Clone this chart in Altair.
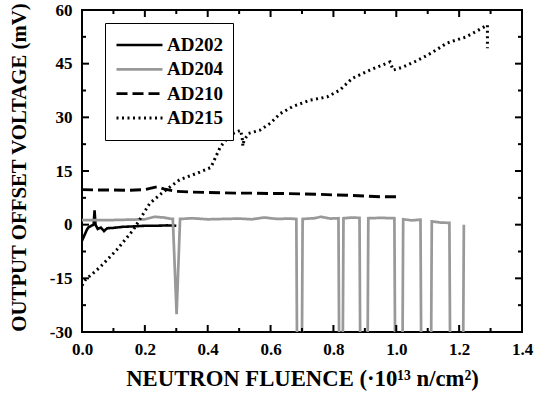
import altair as alt
import pandas as pd

series_names = ["AD202", "AD204", "AD210", "AD215"]
series_colors = ["#000000", "#999999", "#000000", "#000000"]
series_dashes = [[1, 0], [1, 0], [11, 5], [2, 3.5]]
series_widths = [2.6, 3.0, 3.0, 2.8]

ad202_x = [0.0, 0.005, 0.01, 0.015, 0.02, 0.03, 0.037, 0.04, 0.043, 0.05, 0.06, 0.07,
           0.08, 0.1, 0.13, 0.16, 0.2, 0.24, 0.27, 0.3]
ad202_y = [-4.5, -3.5, -2.5, -1.5, -0.8, -0.3, 0.0, 4.0, 0.0, -1.2, -0.8, -1.8,
           -1.0, -0.9, -0.6, -0.5, -0.3, -0.3, -0.2, -0.3]

ad204_x = [0.0, 0.05, 0.1, 0.15, 0.2, 0.23, 0.26, 0.285, 0.289, 0.301, 0.312, 0.316,
           0.35, 0.4, 0.45, 0.5, 0.54, 0.58, 0.62, 0.66, 0.682, 0.684, 0.700, 0.702,
           0.74, 0.76, 0.79, 0.816, 0.818, 0.830, 0.832, 0.86, 0.883, 0.885, 0.909, 0.911,
           0.95, 0.994, 0.996, 1.020, 1.022, 1.05, 1.077, 1.079, 1.111, 1.113, 1.14,
           1.169, 1.171, 1.213, 1.215]
ad204_y = [1.3, 1.3, 1.3, 1.4, 1.5, 2.2, 2.0, 1.6, 1.6, -25.0, 1.6, 1.6,
           1.8, 1.5, 1.6, 1.7, 1.5, 2.0, 1.6, 1.7, 1.6, -31.0, -31.0, 1.6,
           1.8, 2.2, 1.7, 1.8, -31.0, -31.0, 1.8, 2.0, 1.9, -31.0, -31.0, 1.8,
           1.9, 1.8, -31.0, -31.0, 1.5, 1.2, 1.4, -31.0, -31.0, 0.9, 0.6,
           0.5, -31.0, -31.0, 0.0]

ad210_x = [0.0, 0.05, 0.1, 0.15, 0.2, 0.22, 0.24, 0.26, 0.3, 0.35, 0.4, 0.45, 0.5,
           0.55, 0.6, 0.65, 0.7, 0.75, 0.8, 0.85, 0.9, 0.95, 1.0]
ad210_y = [9.8, 9.7, 9.7, 9.6, 9.8, 10.2, 10.6, 10.0, 9.3, 9.1, 9.0, 8.9, 8.8,
           8.8, 8.7, 8.7, 8.6, 8.5, 8.3, 8.2, 8.0, 7.8, 7.8]

ad215_x = [0.0, 0.01, 0.057, 0.11, 0.163, 0.216, 0.258, 0.31, 0.375, 0.41, 0.44, 0.47,
           0.49, 0.505, 0.51, 0.512, 0.515, 0.53, 0.566, 0.6, 0.63, 0.67, 0.725, 0.78,
           0.82, 0.86, 0.916, 0.98, 0.99, 1.02, 1.06, 1.10, 1.13, 1.16, 1.19, 1.22,
           1.25, 1.29, 1.29]
ad215_y = [-17.0, -15.5, -11.9, -7.1, -1.5, 6.0, 9.1, 12.5, 14.7, 16.0, 21.7, 25.0,
           25.9, 26.4, 24.0, 22.0, 23.5, 25.5, 26.4, 28.4, 31.0, 33.0, 34.8, 35.7,
           37.6, 40.9, 43.2, 45.5, 43.2, 44.0, 45.6, 47.4, 49.0, 50.7, 51.6, 52.4,
           53.8, 55.8, 49.3]

x_major_ticks = [0.0, 0.2, 0.4, 0.6, 0.8, 1.0, 1.2, 1.4]
x_minor_ticks = [0.1, 0.3, 0.5, 0.7, 0.9, 1.1, 1.3]
y_major_ticks = [-30, -15, 0, 15, 30, 45, 60]
y_minor_ticks = [-22.5, -7.5, 7.5, 22.5, 37.5, 52.5]

x_title = "NEUTRON FLUENCE (\u00b710\u00b9\u00b3 n/cm\u00b2)"
y_title = "OUTPUT OFFSET VOLTAGE (mV)"

rows = []
for name, xs, ys in zip(series_names, [ad202_x, ad204_x, ad210_x, ad215_x],
                        [ad202_y, ad204_y, ad210_y, ad215_y]):
    for i, (xv, yv) in enumerate(zip(xs, ys)):
        rows.append({"series": name, "fluence": xv, "voltage": yv, "idx": i})
df = pd.DataFrame(rows)

FONT = "Liberation Serif"
W, H = 440, 322
MAJOR = 7
MINOR = 4
xscale = alt.Scale(domain=[0, 1.4], nice=False, zero=False)
yscale = alt.Scale(domain=[-30, 60], nice=False, zero=False)

x_axis = alt.Axis(
    orient="bottom", values=x_major_ticks, grid=False, domain=False, ticks=False,
    tickSize=0,
    labelExpr="format(datum.value, '.1f')", labelFlush=False, labelOverlap=False,
    labelFont=FONT, labelFontWeight="bold", labelFontSize=17, labelColor="black",
    labelPadding=9,
    title=x_title, titleFont=FONT, titleFontWeight="bold", titleFontSize=22.7,
    titleColor="black", titleY=53, titleBaseline="alphabetic",
)
y_axis = alt.Axis(
    orient="left", values=y_major_ticks, grid=False, domain=False, ticks=False,
    tickSize=0,
    labelExpr="'' + datum.value", labelFlush=False, labelOverlap=False,
    labelFont=FONT, labelFontWeight="bold", labelFontSize=17, labelColor="black",
    labelPadding=10,
    title=y_title, titleFont=FONT, titleFontWeight="bold", titleFontSize=20.8,
    titleColor="black", titleX=-57, titleY=157, titleBaseline="alphabetic",
)

legend = alt.Legend(
    title=None, orient="none", legendX=23, legendY=13,
    symbolType="stroke", symbolSize=2116, symbolStrokeWidth=2.6,
    clipHeight=24, rowPadding=0.3, padding=10, labelOffset=3,
    labelFont=FONT, labelFontWeight="bold", labelFontSize=19, labelColor="black",
    strokeColor="black", fillColor="white",
)

lines = alt.Chart(df).mark_line(clip=True).encode(
    x=alt.X("fluence:Q", scale=xscale, axis=x_axis),
    y=alt.Y("voltage:Q", scale=yscale, axis=y_axis),
    color=alt.Color("series:N", scale=alt.Scale(domain=series_names, range=series_colors),
                    legend=legend),
    strokeDash=alt.StrokeDash("series:N",
                              scale=alt.Scale(domain=series_names, range=series_dashes),
                              legend=legend),
    strokeWidth=alt.StrokeWidth("series:N",
                                scale=alt.Scale(domain=series_names, range=series_widths),
                                legend=None),
    order="idx:Q",
)


def x_ticks(values, size):
    data = pd.DataFrame({"t": values})
    base = alt.Chart(data).mark_rule(color="black", strokeWidth=2)
    xenc = alt.X("t:Q", scale=xscale, axis=None)
    bottom = base.encode(x=xenc, y=alt.value(H), y2=alt.value(H - size))
    top = base.encode(x=xenc, y=alt.value(0), y2=alt.value(size))
    return [bottom, top]


def y_ticks(values, size):
    data = pd.DataFrame({"t": values})
    base = alt.Chart(data).mark_rule(color="black", strokeWidth=2)
    yenc = alt.Y("t:Q", scale=yscale, axis=None)
    left = base.encode(y=yenc, x=alt.value(0), x2=alt.value(size))
    right = base.encode(y=yenc, x=alt.value(W), x2=alt.value(W - size))
    return [left, right]


layers = [lines]
layers += x_ticks(x_major_ticks, MAJOR)
layers += x_ticks(x_minor_ticks, MINOR)
layers += y_ticks(y_major_ticks, MAJOR)
layers += y_ticks(y_minor_ticks, MINOR)

chart = alt.layer(*layers).resolve_axis(
    x="independent", y="independent"
).properties(
    width=W, height=H,
    autosize=alt.AutoSizeParams(type="none"),
    padding={"left": 82, "top": 10, "right": 12, "bottom": 62},
    background="white",
).configure_view(stroke="black", strokeWidth=2)

chart.save("out.html", embed_options={"renderer": "svg", "actions": False})
